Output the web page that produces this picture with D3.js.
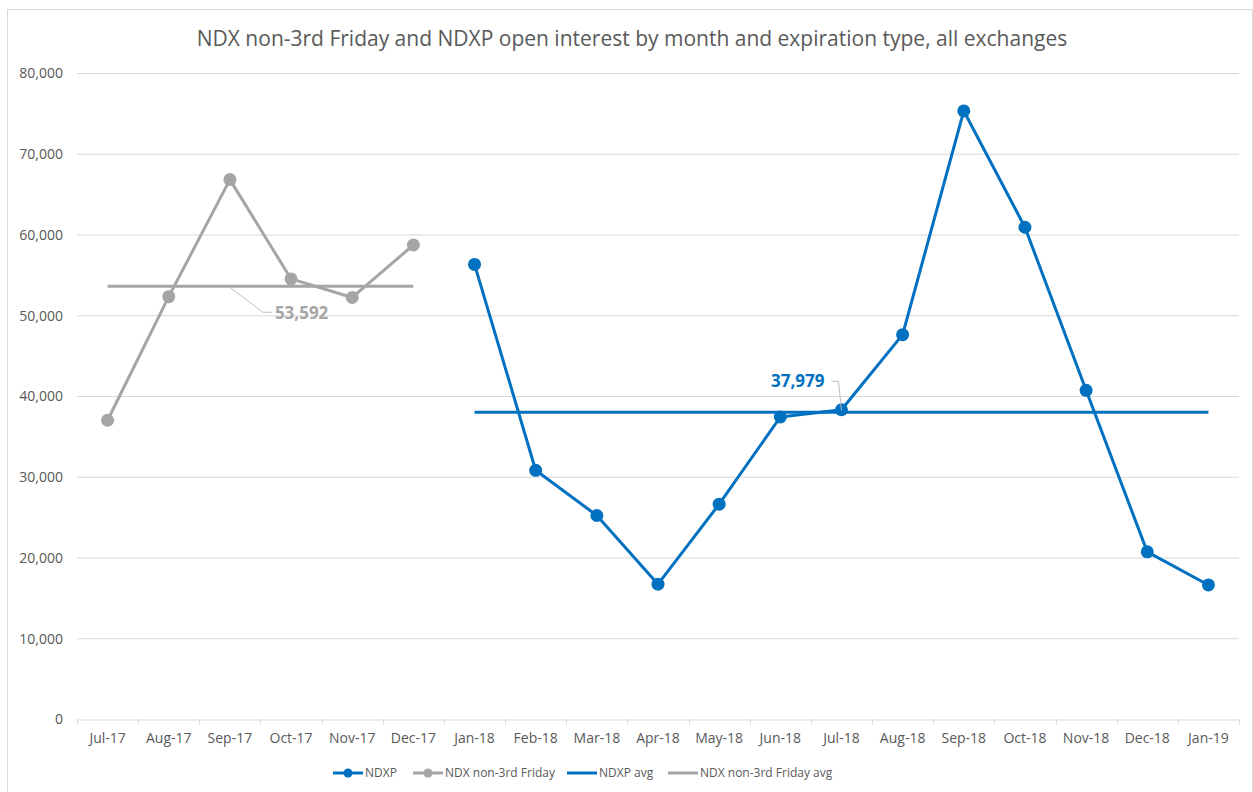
<!DOCTYPE html>
<html>
<head>
<meta charset="utf-8">
<script src="https://cdn.jsdelivr.net/npm/d3@7"></script>
<style>
  body { margin: 0; background: #fff; }
  text { font-family: "Open Sans", "Liberation Sans", sans-serif; }
</style>
</head>
<body>
<div id="main"><svg width="1253" height="792"></svg></div>
<script>
var months = ['Jul-17','Aug-17','Sep-17','Oct-17','Nov-17','Dec-17','Jan-18','Feb-18','Mar-18',
  'Apr-18','May-18','Jun-18','Jul-18','Aug-18','Sep-18','Oct-18','Nov-18','Dec-18','Jan-19'];

// NDX non-3rd Friday, Jul-17 .. Dec-17
var ndxMonths = months.slice(0, 6);
var ndxValues = [37000, 52300, 66800, 54500, 52200, 58700];
var ndxAvg = 53592;

// NDXP, Jan-18 .. Jan-19
var ndxpMonths = months.slice(6);
var ndxpValues = [56300, 30800, 25200, 16700, 26600, 37400, 38300, 47600, 75300, 60900, 40700, 20700, 16600];
var ndxpAvg = 37979;

var yTicks = [0, 10000, 20000, 30000, 40000, 50000, 60000, 70000, 80000];

var BLUE = '#0070c0';
var GREY = '#a5a5a5';
var TEXT = '#595959';

var svg = d3.select('#main svg');
var svgWidth = +svg.attr('width');
var svgHeight = +svg.attr('height');

// outer chart border
svg.append('rect')
  .attr('x', 7.5).attr('y', 9.5)
  .attr('width', svgWidth - 8).attr('height', svgHeight - 8)
  .attr('fill', 'none').attr('stroke', '#d9d9d9');

svg.append('text')
  .attr('x', 632).attr('y', 46)
  .attr('text-anchor', 'middle')
  .style('font-size', '21px')
  .style('fill', TEXT)
  .text('NDX non-3rd Friday and NDXP open interest by month and expiration type, all exchanges');

var plot = {l: 77, r: 1239, t: 73, b: 719};

var x = d3.scaleBand().domain(months).range([plot.l, plot.r]);
var cx = function(m) { return x(m) + x.bandwidth() / 2; };
var y = d3.scaleLinear().domain([0, 80000]).range([plot.b, plot.t]);

// gridlines
svg.append('g').selectAll('line').data(yTicks.slice(1))
  .enter().append('line')
  .attr('x1', plot.l).attr('x2', plot.r)
  .attr('y1', function(d) { return y(d) + 0.5; })
  .attr('y2', function(d) { return y(d) + 0.5; })
  .attr('stroke', '#d9d9d9');

var yAxis = svg.append('g')
  .attr('transform', 'translate(' + [63, 0] + ')')
  .call(d3.axisLeft(y).tickValues(yTicks).tickSize(0).tickPadding(0).tickFormat(d3.format(',')));
yAxis.select('.domain').remove();
yAxis.selectAll('text').style('fill', TEXT).style('font-size', '14px').attr('dy', '0.35em')
  .style('font-family', '"Open Sans", sans-serif');

var xAxis = svg.append('g')
  .attr('transform', 'translate(' + [0, plot.b + 0.5] + ')')
  .call(d3.axisBottom(x).tickSize(0).tickPadding(14));
xAxis.select('.domain').attr('stroke', '#d9d9d9');
xAxis.selectAll('text').style('fill', TEXT).style('font-size', '14px')
  .style('font-family', '"Open Sans", sans-serif');
// category boundary ticks
xAxis.append('g').selectAll('line').data(d3.range(months.length + 1))
  .enter().append('line')
  .attr('x1', function(i) { return Math.round(plot.l + i * x.step()) + 0.5; })
  .attr('x2', function(i) { return Math.round(plot.l + i * x.step()) + 0.5; })
  .attr('y1', 0).attr('y2', 5)
  .attr('stroke', '#d9d9d9');

// averages
svg.append('line')
  .attr('x1', cx(ndxMonths[0])).attr('x2', cx(ndxMonths[ndxMonths.length - 1]))
  .attr('y1', y(ndxAvg)).attr('y2', y(ndxAvg))
  .attr('stroke', GREY).attr('stroke-width', 3);
svg.append('line')
  .attr('x1', cx(ndxpMonths[0])).attr('x2', cx(ndxpMonths[ndxpMonths.length - 1]))
  .attr('y1', y(ndxpAvg)).attr('y2', y(ndxpAvg))
  .attr('stroke', BLUE).attr('stroke-width', 3);

var line = d3.line()
  .x(function(d) { return cx(d.m); })
  .y(function(d) { return y(d.v); });

function drawSeries(ms, vs, color) {
  var pts = ms.map(function(m, i) { return {m: m, v: vs[i]}; });
  svg.append('path').datum(pts)
    .attr('d', line).attr('fill', 'none')
    .attr('stroke', color).attr('stroke-width', 3).attr('stroke-linejoin', 'round');
  svg.append('g').selectAll('circle').data(pts)
    .enter().append('circle')
    .attr('cx', function(d) { return cx(d.m); })
    .attr('cy', function(d) { return y(d.v); })
    .attr('r', 6.5)
    .attr('fill', color);
}
drawSeries(ndxMonths, ndxValues, GREY);
drawSeries(ndxpMonths, ndxpValues, BLUE);

// average labels with leader lines
var gx = cx('Sep-17'), gy = y(ndxAvg);
svg.append('polyline')
  .attr('points', [[gx, gy + 1], [gx + 33, gy + 26], [gx + 42, gy + 26]].join(' '))
  .attr('fill', 'none').attr('stroke', '#bfbfbf').attr('stroke-width', 1);
svg.append('text')
  .attr('x', gx + 45).attr('y', gy + 33)
  .style('font-size', '17px').style('font-weight', 'bold').style('fill', GREY)
  .text(d3.format(',')(ndxAvg));

var bx = cx('Jul-18'), by = y(ndxpAvg);
svg.append('polyline')
  .attr('points', [[bx - 10, by - 31], [bx - 3, by - 31], [bx, by - 2]].join(' '))
  .attr('fill', 'none').attr('stroke', '#bfbfbf').attr('stroke-width', 1);
svg.append('text')
  .attr('x', bx - 17).attr('y', by - 25)
  .attr('text-anchor', 'end')
  .style('font-size', '17px').style('font-weight', 'bold').style('fill', BLUE)
  .text(d3.format(',')(ndxpAvg));

// legend
var legendItems = [
  {label: 'NDXP', color: BLUE, dot: true, x: 333},
  {label: 'NDX non-3rd Friday', color: GREY, dot: true, x: 413},
  {label: 'NDXP avg', color: BLUE, dot: false, x: 567},
  {label: 'NDX non-3rd Friday avg', color: GREY, dot: false, x: 668}
];
var legend = svg.append('g').attr('transform', 'translate(' + [0, 773] + ')');
var li = legend.selectAll('g').data(legendItems).enter().append('g')
  .attr('transform', function(d) { return 'translate(' + [d.x, 0] + ')'; });
li.append('line').attr('x1', 0).attr('x2', 30).attr('y1', 0).attr('y2', 0)
  .attr('stroke', function(d) { return d.color; }).attr('stroke-width', 3);
li.filter(function(d) { return d.dot; }).append('circle')
  .attr('cx', 15).attr('cy', 0).attr('r', 4.5)
  .attr('fill', function(d) { return d.color; });
li.append('text').attr('x', 32).attr('y', 0).attr('dy', '0.35em')
  .style('font-size', '12px').style('fill', TEXT)
  .text(function(d) { return d.label; });
</script>
</body>
</html>
